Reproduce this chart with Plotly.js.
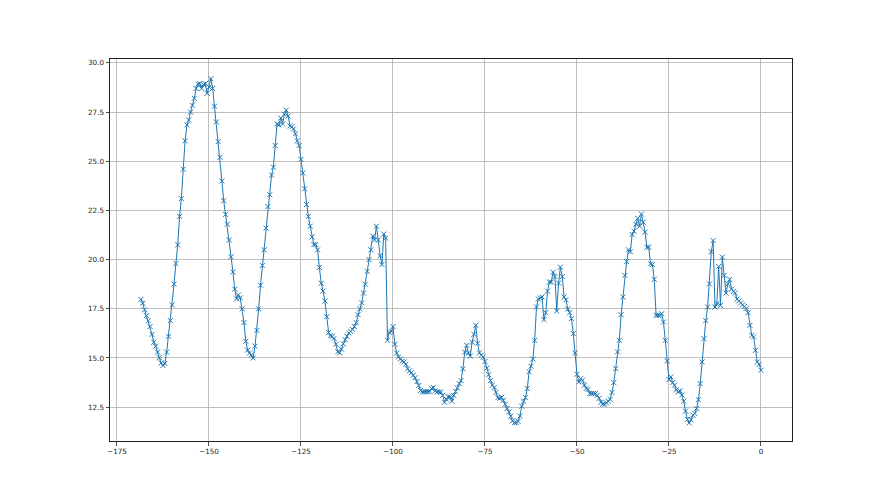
<!DOCTYPE html>
<html>
<head>
<meta charset="utf-8">
<script src="https://cdn.plot.ly/plotly-3.0.1.min.js"></script>
<style>
  html, body { margin: 0; padding: 0; background: #fff; }
  #chart { width: 880px; height: 495px; }
</style>
</head>
<body>
<div id="chart"></div>
<script>
// Time axis: first sample and sampling step (hours)
const TIME_START = -168.5;
const TIME_STEP = 0.5;

// Readings, one per sample (10 samples per row)
const readings = [
  17.98, 17.78, 17.45, 17.15, 16.9, 16.6, 16.2, 15.8, 15.6, 15.3,
  15.02, 14.75, 14.62, 14.72, 15.3, 16.1, 16.9, 17.7, 18.75, 19.8,
  20.75, 22.2, 23.1, 24.6, 26.04, 26.85, 27.1, 27.5, 27.85, 28.2,
  28.7, 28.92, 28.95, 28.7, 28.9, 28.95, 28.45, 28.77, 29.2, 28.7,
  27.8, 27.0, 26.0, 25.2, 24.0, 23.0, 22.3, 21.8, 21.0, 20.15,
  19.37, 18.5, 18.0, 18.2, 18.06, 17.5, 16.8, 15.85, 15.4, 15.25,
  15.15, 15.0, 15.6, 16.4, 17.5, 18.7, 19.7, 20.5, 21.6, 22.7,
  23.3, 24.3, 24.7, 25.8, 26.9, 26.85, 27.2, 26.9, 27.4, 27.6,
  27.3, 26.8, 26.75, 26.65, 26.4, 26.04, 25.8, 25.1, 24.4, 23.6,
  22.8, 22.2, 21.7, 21.15, 20.77, 20.77, 20.5, 19.6, 18.8, 18.4,
  17.9, 17.1, 16.3, 16.13, 16.1, 16.0, 15.7, 15.32, 15.27, 15.45,
  15.72, 15.93, 16.1, 16.27, 16.35, 16.45, 16.6, 16.8, 17.2, 17.5,
  17.8, 18.3, 18.75, 19.4, 20.0, 20.5, 21.2, 21.0, 21.7, 21.0,
  20.2, 19.75, 21.3, 21.1, 15.9, 16.3, 16.35, 16.6, 15.7, 15.25,
  15.05, 14.95, 14.85, 14.8, 14.68, 14.45, 14.35, 14.25, 14.12, 14.0,
  13.8, 13.6, 13.35, 13.28, 13.28, 13.28, 13.28, 13.3, 13.45, 13.5,
  13.33, 13.28, 13.28, 13.26, 13.1, 12.75, 12.9, 13.03, 13.02, 12.8,
  13.1, 13.3, 13.48, 13.7, 13.85, 14.45, 15.3, 15.65, 15.25, 15.1,
  15.8, 16.2, 16.66, 15.75, 15.26, 15.14, 15.05, 14.82, 14.48, 14.15,
  13.85, 13.62, 13.5, 13.25, 12.98, 12.95, 13.0, 12.85, 12.65, 12.43,
  12.26, 12.04, 11.81, 11.71, 11.71, 11.78, 12.05, 12.55, 12.8, 13.0,
  13.45, 14.3, 14.58, 14.95, 15.9, 17.6, 18.0, 18.05, 18.1, 16.95,
  17.3, 18.4, 18.86, 18.86, 19.36, 19.14, 17.39, 18.81, 19.62, 19.14,
  18.1, 17.96, 17.49, 17.3, 17.0, 16.24, 15.26, 14.17, 13.78, 13.95,
  13.87, 13.62, 13.45, 13.4, 13.19, 13.19, 13.19, 13.19, 13.1, 12.95,
  12.75, 12.65, 12.65, 12.72, 12.8, 12.9, 13.25, 13.75, 14.46, 15.31,
  15.9, 17.2, 18.1, 19.2, 19.9, 20.5, 20.4, 21.28, 21.45, 21.8,
  22.1, 21.7, 22.32, 21.9, 21.4, 20.63, 20.63, 19.79, 19.75, 19.0,
  17.17, 17.17, 17.17, 17.25, 16.83, 15.9, 14.85, 13.9, 14.04, 13.75,
  13.62, 13.38, 13.28, 13.33, 13.12, 12.8, 12.3, 11.88, 11.7, 11.86,
  12.1, 12.18, 12.43, 12.88, 13.7, 14.8, 15.98, 16.9, 17.59, 18.77,
  20.4, 20.97, 17.59, 17.76, 19.65, 17.67, 20.13, 19.2, 18.3, 18.77,
  19.0, 18.5, 18.38, 18.3, 18.0, 17.9, 17.8, 17.7, 17.62, 17.52,
  17.3, 16.66, 16.15, 16.07, 15.39, 14.8, 14.68, 14.38
];

// Tick labels
const xTickVals = [-175, -150, -125, -100, -75, -50, -25, 0];
const yTickVals = [12.5, 15.0, 17.5, 20.0, 22.5, 25.0, 27.5, 30.0];
const yTickText = ['12.5', '15.0', '17.5', '20.0', '22.5', '25.0', '27.5', '30.0'];

const trace = {
  type: 'scatter',
  mode: 'lines+markers',
  x0: TIME_START,
  dx: TIME_STEP,
  y: readings,
  line: { color: '#1f77b4', width: 1 },
  marker: {
    symbol: 'x-thin',
    size: 5,
    color: '#1f77b4',
    line: { color: '#1f77b4', width: 1 }
  },
  hoverinfo: 'x+y'
};

const axisCommon = {
  showgrid: true,
  gridcolor: '#b0b0b0',
  gridwidth: 0.8,
  zeroline: false,
  showline: true,
  mirror: true,
  linecolor: '#222',
  linewidth: 1,
  ticks: 'outside',
  ticklen: 3.5,
  tickwidth: 0.8,
  tickcolor: '#222',
  tickfont: { family: 'DejaVu Sans', size: 7.2, color: '#222' }
};

const layout = {
  width: 880,
  height: 495,
  paper_bgcolor: '#fff',
  plot_bgcolor: '#fff',
  showlegend: false,
  margin: { l: 110, r: 88, t: 59, b: 54, pad: 0 },
  xaxis: Object.assign({}, axisCommon, {
    range: [-176.9, 8.43],
    tickvals: xTickVals,
    ticktext: xTickVals.map(v => v < 0 ? '\u2212' + Math.abs(v) : String(v))
  }),
  yaxis: Object.assign({}, axisCommon, {
    range: [10.78, 30.2],
    tickvals: yTickVals,
    ticktext: yTickText
  })
};

Plotly.newPlot('chart', [trace], layout, { displayModeBar: false, staticPlot: true });
</script>
</body>
</html>
